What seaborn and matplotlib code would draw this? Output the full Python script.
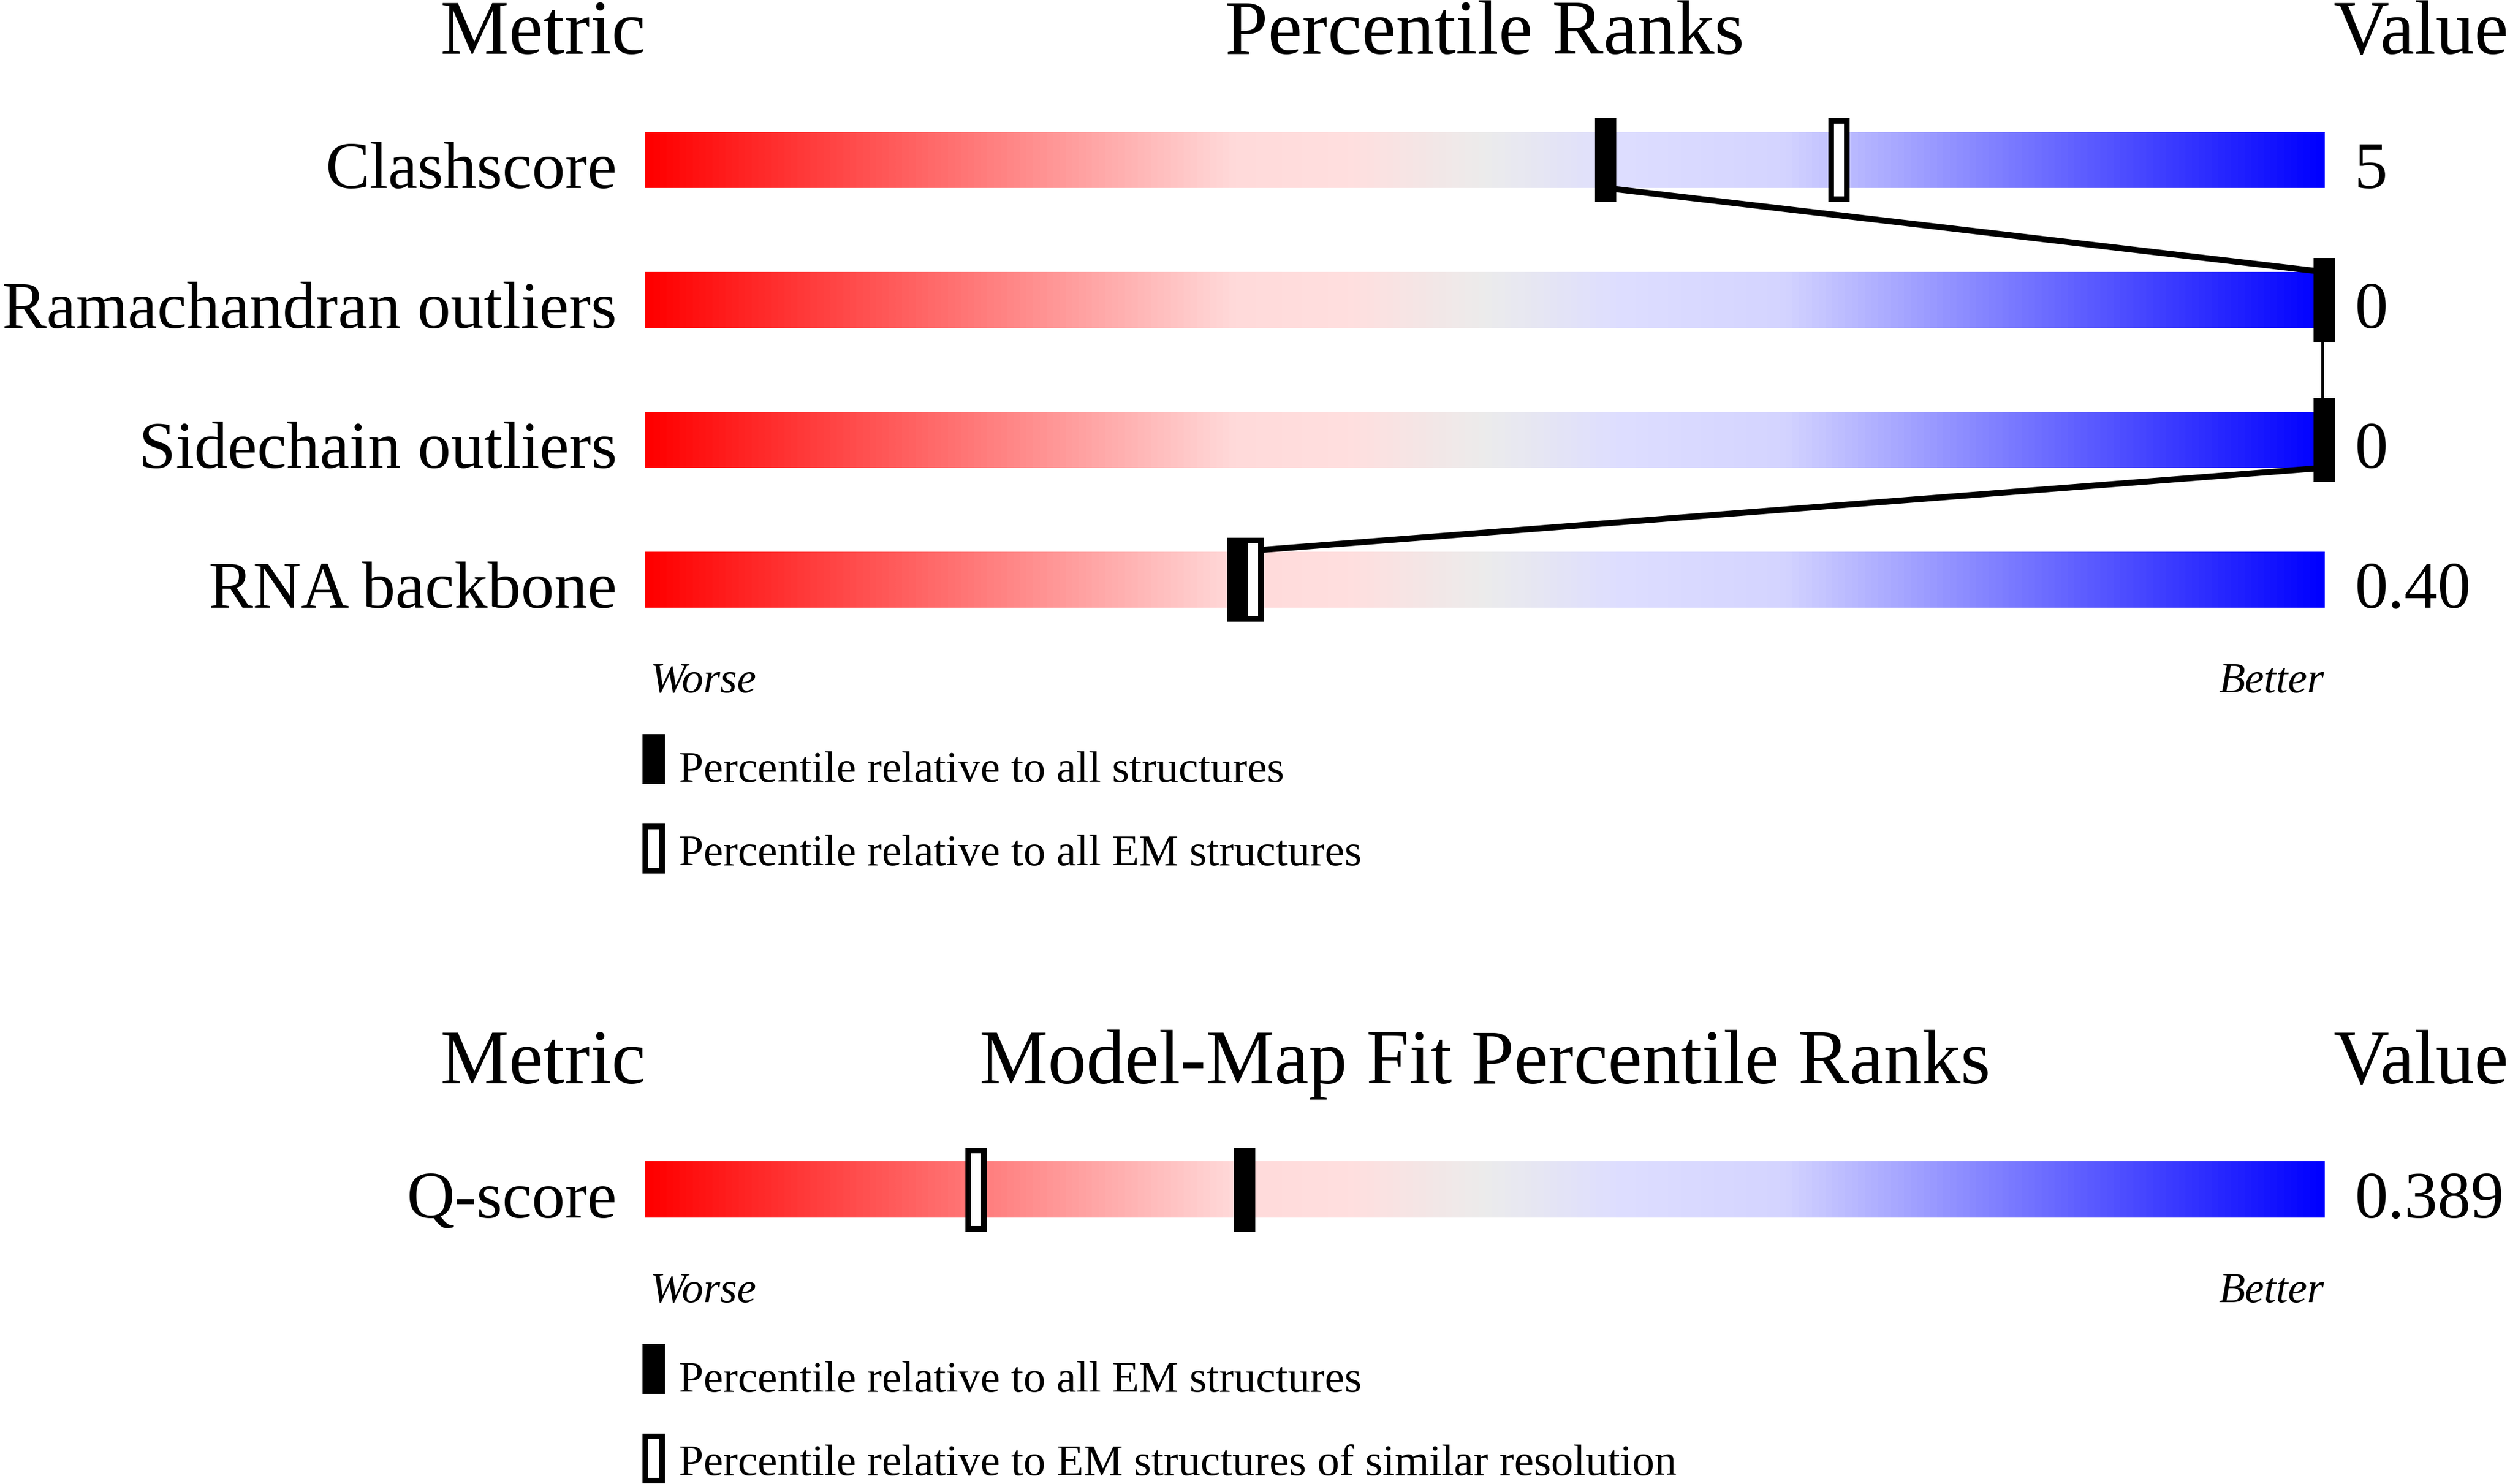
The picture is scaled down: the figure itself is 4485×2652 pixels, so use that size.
import numpy as np
import matplotlib
matplotlib.use("Agg")
import matplotlib.pyplot as plt
from matplotlib.colors import LinearSegmentedColormap
from matplotlib.patches import Rectangle
import seaborn as sns

# Geometry validation metrics
metrics = ["Clashscore", "Ramachandran outliers", "Sidechain outliers", "RNA backbone"]
metric_values = ["5", "0", "0", "0.40"]
pct_all = [57.2, 100.0, 100.0, 35.3]
pct_all_em = [71.1, np.nan, np.nan, 36.2]

# Model-map fit metrics
fit_metrics = ["Q-score"]
fit_values = ["0.389"]
fit_pct_all_em = [35.7]
fit_pct_similar = [19.7]

legend_top = ["Percentile relative to all structures",
              "Percentile relative to all EM structures"]
legend_bottom = ["Percentile relative to all EM structures",
                 "Percentile relative to EM structures of similar resolution"]

sns.set_theme(style="white")
plt.rcParams["font.family"] = ["Liberation Serif", "DejaVu Serif"]
plt.rcParams["text.color"] = "black"

cmap = LinearSegmentedColormap.from_list("worse_better", [
    (0.0, (1, 0, 0)),
    (0.35, (1, 0.855, 0.855)),
    (0.42, (1, 0.875, 0.875)),
    (0.5, (0.925, 0.925, 0.925)),
    (0.58, (0.87, 0.87, 1)),
    (0.68, (0.83, 0.83, 1)),
    (1.0, (0, 0, 1)),
])
gradient = np.linspace(0, 1, 512).reshape(1, -1)

BAR_H = 0.4
MARK_H = 0.6
FILL_W = 1.27
OPEN_W = 0.93


def draw_panel(ax, names, values, filled, hollow, title, legend_labels):
    n = len(names)
    rows = np.arange(n)
    filled = np.asarray(filled, dtype=float)
    hollow = np.asarray(hollow, dtype=float)

    for i, (name, val) in enumerate(zip(names, values)):
        ax.imshow(gradient, cmap=cmap, aspect="auto", interpolation="bilinear",
                  extent=(0, 100, i + BAR_H / 2, i - BAR_H / 2), zorder=1)
        ax.text(-1.7, i + BAR_H / 2, name, ha="right", va="baseline", fontsize=28.5)
        ax.text(101.8, i + BAR_H / 2, val, ha="left", va="baseline", fontsize=28.5)

    # line linking the "all structures" markers from row to row
    if n > 1:
        line_x = np.repeat(filled, 2)
        line_y = np.ravel(np.column_stack([rows - BAR_H / 2, rows + BAR_H / 2]))
        sns.lineplot(x=line_x, y=line_y, sort=False, estimator=None,
                     color="black", linewidth=2.6, ax=ax, zorder=2)

    ok = ~np.isnan(filled)
    bars = ax.bar(filled[ok], MARK_H, width=FILL_W, bottom=rows[ok] - MARK_H / 2,
                  color="black", linewidth=0, zorder=3)
    for p in bars:
        p.set_clip_on(False)
    ok = ~np.isnan(hollow)
    open_h = MARK_H - 0.04
    bars = ax.bar(hollow[ok], open_h, width=OPEN_W, bottom=rows[ok] - open_h / 2,
                  facecolor="white", edgecolor="black", linewidth=2.4, zorder=4)
    for p in bars:
        p.set_clip_on(False)

    head_y = -0.76
    ax.text(0, head_y, "Metric", ha="right", va="baseline", fontsize=33)
    ax.text(50, head_y, title, ha="center", va="baseline", fontsize=33)
    ax.text(111.0, head_y, "Value", ha="right", va="baseline", fontsize=33)

    last = n - 1
    ax.text(0.3, last + 0.805, "Worse", style="italic", fontsize=18.5,
            ha="left", va="baseline")
    ax.text(100, last + 0.805, "Better", style="italic", fontsize=18.5,
            ha="right", va="baseline")

    ax.add_patch(Rectangle((-0.17, last + 1.104), 1.34, 0.356, color="black",
                           linewidth=0, clip_on=False))
    ax.text(2.0, last + 1.444, legend_labels[0], fontsize=19, va="baseline")
    ax.add_patch(Rectangle((0.0, last + 1.764), 1.0, 0.316, facecolor="white",
                           edgecolor="black", linewidth=2.4, clip_on=False))
    ax.text(2.0, last + 2.04, legend_labels[1], fontsize=19, va="baseline")

    ax.set_xlim(0, 100)
    ax.set_ylim(n - 0.5, -0.5)
    ax.axis("off")


fig = plt.figure(figsize=(14.95, 8.84))
ax_top = fig.add_axes([0.25708, 0.56222, 0.66890, 0.37707])
ax_bot = fig.add_axes([0.25708, 0.15121, 0.66890, 0.09427])

draw_panel(ax_top, metrics, metric_values, pct_all, pct_all_em,
           "Percentile Ranks", legend_top)
draw_panel(ax_bot, fit_metrics, fit_values, fit_pct_all_em, fit_pct_similar,
           "Model-Map Fit Percentile Ranks", legend_bottom)

fig.savefig("out.png", dpi=300)
